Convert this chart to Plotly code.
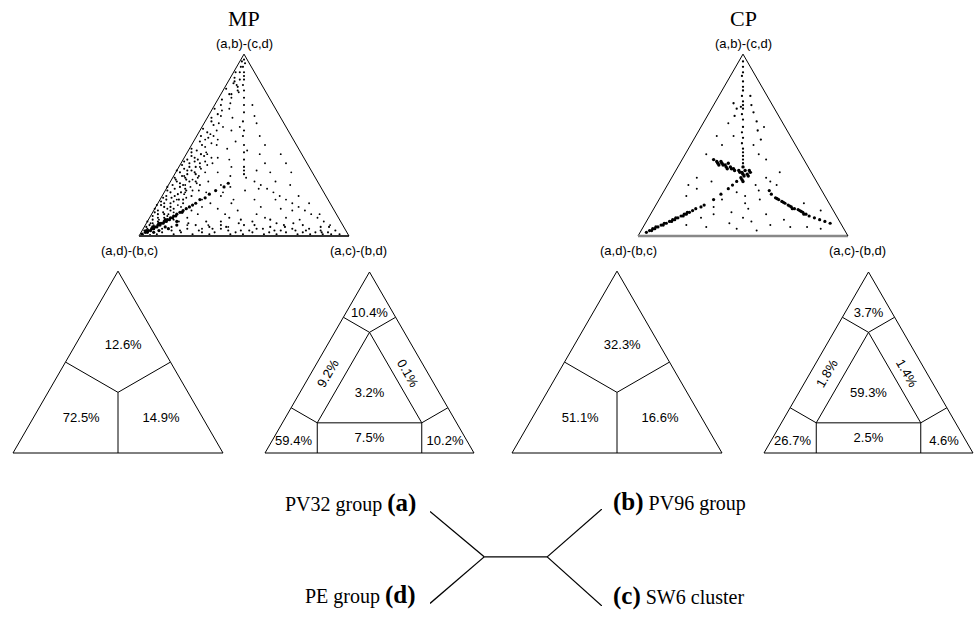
import math
import plotly.graph_objects as go

W, H = 975, 621

# ------------------------------------------------------------------ data
titles = ["MP", "CP"]
vertex_labels = ["(a,b)-(c,d)", "(a,d)-(b,c)", "(a,c)-(b,d)"]  # apex, bottom-left, bottom-right

# Likelihood-mapping points as (a, c): a = weight of (a,b)-(c,d) [apex],
# c = weight of (a,c)-(b,d) [bottom right]; b = 1 - a - c  [(a,d)-(b,c), bottom left]
mp_left_band = [
    (0.05, 0.01), (0.07, 0.03), (0.08, 0.00), (0.09, 0.02), (0.10, 0.04), (0.11, 0.01), (0.12, 0.03),
    (0.13, 0.05), (0.14, 0.02), (0.15, 0.00), (0.16, 0.04), (0.17, 0.02), (0.18, 0.06), (0.19, 0.01),
    (0.20, 0.03), (0.21, 0.05), (0.22, 0.02), (0.23, 0.07), (0.24, 0.03), (0.25, 0.01), (0.26, 0.04),
    (0.27, 0.06), (0.28, 0.02), (0.29, 0.05), (0.30, 0.03), (0.31, 0.07), (0.32, 0.01), (0.33, 0.04),
    (0.34, 0.06), (0.35, 0.02), (0.36, 0.05), (0.37, 0.03), (0.38, 0.08), (0.39, 0.01), (0.40, 0.04),
    (0.41, 0.06), (0.42, 0.02), (0.43, 0.05), (0.44, 0.03), (0.45, 0.07), (0.46, 0.02), (0.47, 0.04),
    (0.48, 0.01), (0.50, 0.05), (0.52, 0.03), (0.54, 0.06), (0.55, 0.02), (0.57, 0.04), (0.59, 0.01),
    (0.61, 0.05), (0.63, 0.03), (0.65, 0.02), (0.67, 0.04), (0.70, 0.01), (0.72, 0.03), (0.75, 0.02),
    (0.78, 0.04), (0.81, 0.01), (0.84, 0.03), (0.87, 0.02), (0.90, 0.01), (0.93, 0.02), (0.96, 0.01),
    (0.06, 0.02), (0.08, 0.05), (0.10, 0.07), (0.12, 0.06), (0.14, 0.08), (0.16, 0.07), (0.18, 0.03),
    (0.20, 0.09), (0.22, 0.06), (0.24, 0.08), (0.26, 0.09), (0.28, 0.07), (0.30, 0.09), (0.32, 0.06),
    (0.34, 0.10), (0.36, 0.07), (0.38, 0.05), (0.40, 0.09), (0.42, 0.07), (0.44, 0.09), (0.13, 0.01),
    (0.17, 0.00), (0.21, 0.01), (0.27, 0.00), (0.31, 0.02), (0.36, 0.00), (0.41, 0.01),
    (0.15, 0.09), (0.20, 0.11), (0.25, 0.10), (0.30, 0.12), (0.35, 0.09), (0.22, 0.14), (0.28, 0.15),
    (0.18, 0.12),
]
mp_streak = [
    (0.01, 0.01), (0.02, 0.02), (0.02, 0.03), (0.03, 0.03), (0.03, 0.04), (0.04, 0.04), (0.04, 0.05),
    (0.05, 0.05), (0.05, 0.06), (0.06, 0.06), (0.06, 0.07), (0.07, 0.07), (0.07, 0.08), (0.08, 0.08),
    (0.08, 0.09), (0.09, 0.09), (0.09, 0.10), (0.10, 0.10), (0.10, 0.11), (0.11, 0.11), (0.11, 0.12),
    (0.12, 0.12), (0.13, 0.13), (0.13, 0.14), (0.14, 0.14), (0.15, 0.15), (0.16, 0.16), (0.17, 0.17),
    (0.18, 0.18), (0.20, 0.19), (0.21, 0.21), (0.23, 0.22), (0.25, 0.24), (0.27, 0.27), (0.29, 0.28),
    (0.02, 0.06), (0.03, 0.08), (0.04, 0.12), (0.05, 0.10), (0.06, 0.15), (0.08, 0.14), (0.03, 0.02),
    (0.05, 0.04), (0.07, 0.06), (0.09, 0.08),
]
mp_base_band = [
    (0.005, 0.05), (0.01, 0.08), (0.02, 0.10), (0.00, 0.12), (0.03, 0.14), (0.01, 0.16), (0.02, 0.19),
    (0.04, 0.21), (0.00, 0.23), (0.01, 0.25), (0.03, 0.27), (0.02, 0.29), (0.05, 0.31), (0.01, 0.33),
    (0.02, 0.35), (0.04, 0.37), (0.00, 0.39), (0.03, 0.41), (0.01, 0.43), (0.02, 0.45), (0.06, 0.47),
    (0.01, 0.49), (0.03, 0.51), (0.02, 0.53), (0.00, 0.55), (0.04, 0.57), (0.01, 0.59), (0.02, 0.61),
    (0.03, 0.63), (0.01, 0.65), (0.05, 0.67), (0.02, 0.69), (0.00, 0.71), (0.03, 0.73), (0.01, 0.75),
    (0.02, 0.77), (0.04, 0.79), (0.01, 0.81), (0.02, 0.83), (0.03, 0.85), (0.01, 0.87), (0.02, 0.89),
    (0.01, 0.91), (0.00, 0.93), (0.01, 0.95), (0.07, 0.20), (0.08, 0.35), (0.06, 0.52), (0.09, 0.44),
    (0.07, 0.62), (0.06, 0.75), (0.05, 0.84), (0.08, 0.28), (0.10, 0.38), (0.09, 0.58),
    (0.04, 0.09), (0.05, 0.13), (0.03, 0.18), (0.06, 0.24), (0.04, 0.33), (0.05, 0.39), (0.03, 0.47),
    (0.04, 0.54), (0.05, 0.60), (0.03, 0.66), (0.04, 0.71), (0.03, 0.78), (0.02, 0.86), (0.03, 0.92),
    (0.06, 0.36), (0.07, 0.44), (0.08, 0.50), (0.06, 0.66), (0.07, 0.70), (0.05, 0.88),
]
mp_apex_line = [
    (0.97, 0.015), (0.95, 0.03), (0.93, 0.03), (0.90, 0.05), (0.88, 0.06), (0.86, 0.07), (0.83, 0.08),
    (0.80, 0.10), (0.76, 0.12), (0.72, 0.14), (0.68, 0.16), (0.63, 0.18), (0.58, 0.21), (0.55, 0.22),
    (0.50, 0.25), (0.46, 0.27), (0.42, 0.29), (0.38, 0.31), (0.36, 0.32), (0.34, 0.33),
    (0.90, 0.03), (0.86, 0.05), (0.82, 0.06), (0.85, 0.03), (0.80, 0.07), (0.78, 0.05),
]
mp_br_line = [
    (0.30, 0.40), (0.28, 0.44), (0.26, 0.48), (0.24, 0.52), (0.22, 0.56), (0.20, 0.60), (0.18, 0.64),
    (0.16, 0.68), (0.14, 0.72), (0.12, 0.76), (0.10, 0.80), (0.08, 0.84), (0.06, 0.88),
]
mp_scatter = [
    (0.40, 0.15), (0.45, 0.10), (0.50, 0.12), (0.55, 0.08), (0.60, 0.10), (0.35, 0.20), (0.30, 0.18),
    (0.25, 0.16), (0.42, 0.22), (0.48, 0.18), (0.52, 0.20), (0.38, 0.25), (0.33, 0.27), (0.27, 0.30),
    (0.22, 0.28), (0.18, 0.25), (0.15, 0.30), (0.12, 0.22), (0.10, 0.18), (0.08, 0.15), (0.14, 0.40),
    (0.18, 0.35), (0.12, 0.50), (0.20, 0.45), (0.25, 0.38), (0.30, 0.50), (0.35, 0.45), (0.40, 0.40),
    (0.45, 0.35), (0.28, 0.58), (0.22, 0.65), (0.15, 0.60), (0.10, 0.65), (0.18, 0.72), (0.12, 0.80),
    (0.05, 0.40), (0.06, 0.30), (0.65, 0.12), (0.70, 0.08), (0.72, 0.18), (0.62, 0.25), (0.55, 0.30),
    (0.50, 0.35), (0.58, 0.15), (0.66, 0.22), (0.45, 0.45), (0.40, 0.50), (0.35, 0.55), (0.38, 0.10),
    (0.32, 0.12), (0.28, 0.08), (0.24, 0.10), (0.20, 0.08), (0.16, 0.12), (0.12, 0.08), (0.09, 0.12),
    (0.06, 0.20), (0.04, 0.28), (0.14, 0.18), (0.24, 0.20), (0.33, 0.05), (0.43, 0.16), (0.53, 0.05),
    (0.47, 0.28), (0.60, 0.18),
    (0.03, 0.01), (0.04, 0.02), (0.06, 0.04), (0.07, 0.02), (0.09, 0.05), (0.11, 0.08), (0.13, 0.10),
    (0.15, 0.06), (0.17, 0.10), (0.19, 0.07), (0.21, 0.12), (0.23, 0.10), (0.25, 0.13), (0.27, 0.11),
    (0.29, 0.13), (0.31, 0.10), (0.33, 0.12), (0.35, 0.14), (0.37, 0.11), (0.39, 0.13), (0.41, 0.11),
    (0.43, 0.13), (0.46, 0.09), (0.49, 0.07), (0.51, 0.09), (0.53, 0.11), (0.56, 0.06), (0.58, 0.08),
    (0.62, 0.07), (0.66, 0.06), (0.69, 0.05), (0.73, 0.07), (0.76, 0.06), (0.79, 0.08), (0.83, 0.05),
    (0.20, 0.35), (0.24, 0.28), (0.28, 0.25), (0.32, 0.35), (0.36, 0.38), (0.26, 0.44), (0.16, 0.50),
    (0.10, 0.55), (0.14, 0.66), (0.20, 0.55), (0.09, 0.72), (0.12, 0.35), (0.16, 0.22), (0.20, 0.20),
]

cp_bl_streak = [
    (0.02, 0.03), (0.03, 0.04), (0.04, 0.05), (0.04, 0.06), (0.05, 0.07), (0.06, 0.08), (0.06, 0.09),
    (0.07, 0.10), (0.08, 0.11), (0.09, 0.12), (0.09, 0.13), (0.10, 0.14), (0.11, 0.15), (0.12, 0.16),
    (0.12, 0.17), (0.13, 0.18), (0.14, 0.19), (0.15, 0.20), (0.16, 0.22), (0.17, 0.23), (0.03, 0.05),
    (0.05, 0.06), (0.07, 0.09), (0.08, 0.12), (0.10, 0.13), (0.11, 0.16), (0.13, 0.17), (0.20, 0.26),
    (0.23, 0.28), (0.26, 0.30), (0.28, 0.31), (0.30, 0.32),
]
cp_br_streak = [
    (0.25, 0.50), (0.23, 0.52), (0.21, 0.55), (0.20, 0.57), (0.19, 0.59), (0.18, 0.61), (0.17, 0.63),
    (0.16, 0.65), (0.15, 0.67), (0.145, 0.69), (0.14, 0.70), (0.13, 0.72), (0.12, 0.74), (0.11, 0.76),
    (0.10, 0.79), (0.09, 0.82), (0.08, 0.85), (0.07, 0.88), (0.205, 0.56), (0.185, 0.60), (0.165, 0.64),
    (0.15, 0.66), (0.135, 0.71), (0.12, 0.73),
]
cp_center_blob = [
    (0.42, 0.15), (0.41, 0.17), (0.40, 0.18), (0.40, 0.20), (0.39, 0.21), (0.39, 0.22), (0.38, 0.23),
    (0.38, 0.25), (0.37, 0.26), (0.37, 0.27), (0.36, 0.28), (0.36, 0.30), (0.35, 0.31), (0.35, 0.32),
    (0.34, 0.33), (0.34, 0.35), (0.33, 0.34), (0.36, 0.33), (0.38, 0.31), (0.32, 0.33), (0.35, 0.36),
    (0.41, 0.19), (0.39, 0.19), (0.37, 0.24), (0.40, 0.23), (0.33, 0.36), (0.31, 0.34), (0.30, 0.35),
    (0.36, 0.35),
]
cp_apex_line = [
    (0.96, 0.02), (0.93, 0.035), (0.90, 0.05), (0.88, 0.055), (0.85, 0.075), (0.82, 0.09), (0.80, 0.10),
    (0.77, 0.11), (0.74, 0.13), (0.72, 0.14), (0.71, 0.135), (0.70, 0.15), (0.67, 0.16), (0.64, 0.18),
    (0.60, 0.20), (0.57, 0.21), (0.54, 0.23), (0.51, 0.24), (0.48, 0.26), (0.46, 0.27), (0.44, 0.28),
    (0.42, 0.29), (0.40, 0.30), (0.77, 0.15), (0.72, 0.18), (0.68, 0.21), (0.63, 0.25), (0.58, 0.28),
    (0.53, 0.32), (0.73, 0.09), (0.70, 0.12), (0.66, 0.13),
]
cp_scatter = [
    (0.10, 0.45), (0.08, 0.50), (0.12, 0.55), (0.06, 0.60), (0.09, 0.65), (0.05, 0.70), (0.07, 0.40),
    (0.13, 0.38), (0.15, 0.45), (0.18, 0.42), (0.22, 0.40), (0.20, 0.48), (0.25, 0.45), (0.28, 0.42),
    (0.24, 0.35), (0.20, 0.30), (0.16, 0.28), (0.12, 0.30), (0.10, 0.25), (0.06, 0.20), (0.05, 0.30),
    (0.04, 0.45), (0.03, 0.55), (0.05, 0.78), (0.04, 0.85), (0.30, 0.20), (0.26, 0.15), (0.22, 0.12),
    (0.28, 0.10), (0.32, 0.12), (0.45, 0.10), (0.50, 0.15), (0.55, 0.18), (0.50, 0.30), (0.45, 0.35),
    (0.42, 0.40), (0.30, 0.48), (0.28, 0.52), (0.32, 0.45), (0.55, 0.10), (0.62, 0.12), (0.60, 0.30),
    (0.14, 0.80), (0.18, 0.70), (0.35, 0.50),
]

# region percentages
mp3_values = ["12.6%", "72.5%", "14.9%"]
cp3_values = ["32.3%", "51.1%", "16.6%"]
mp7_values = ["10.4%", "9.2%", "0.1%", "3.2%", "59.4%", "7.5%", "10.2%"]
cp7_values = ["3.7%", "1.8%", "1.4%", "59.3%", "26.7%", "2.5%", "4.6%"]

# label anchor positions (a, c) and text rotation
pos3 = [(0.59, 0.23), (0.19, 0.23), (0.19, 0.61)]
pos7 = [(0.77, 0.115), (0.44, 0.08), (0.44, 0.465), (0.33, 0.335), (0.063, 0.105), (0.077, 0.461), (0.063, 0.83)]
rot7 = [0, -60, 60, 0, 0, 0, 0]

# region boundaries (a, b, c) -> (a, b, c)
c3 = (1 / 3, 1 / 3, 1 / 3)
seg3 = [(c3, (0.5, 0.5, 0.0)), (c3, (0.5, 0.0, 0.5)), (c3, (0.0, 0.5, 0.5))]
iA, iB, iC = (2 / 3, 1 / 6, 1 / 6), (1 / 6, 2 / 3, 1 / 6), (1 / 6, 1 / 6, 2 / 3)
seg7 = [
    (iA, iB), (iB, iC), (iC, iA),
    (iA, (0.75, 0.25, 0.0)), (iA, (0.75, 0.0, 0.25)),
    (iB, (0.25, 0.75, 0.0)), (iB, (0.0, 0.75, 0.25)),
    (iC, (0.25, 0.0, 0.75)), (iC, (0.0, 0.25, 0.75)),
]

# quartet tree
tree_nodes = {"L": (0.0, 0.0), "R": (1.0, 0.0), "a": (-0.86, 0.72), "d": (-0.86, -0.74),
              "b": (1.87, 0.76), "c": (1.87, -0.78)}
tree_edges = [("L", "R"), ("L", "a"), ("L", "d"), ("R", "b"), ("R", "c")]
tree_labels = {"a": ("PV32 group ", "(a)"), "d": ("PE group ", "(d)"),
               "b": ("(b)", " PV96 group"), "c": ("(c)", " SW6 cluster")}

# ------------------------------------------------------------------ layout helpers
SANS = "Liberation Sans, Arial, sans-serif"
SERIF = "Liberation Serif, Times New Roman, serif"

# triangle placement: (left px, right px, base px)
tri_top = {"MP": (139, 349, 236), "CP": (638, 848, 236)}
tri_mid = [(13, 223, 453), (265, 474, 453), (512, 722, 453), (764, 973, 453)]


def domain(tri):
    left, right, base = tri
    h = (right - left) * math.sqrt(3) / 2
    return dict(x=[left / W, right / W], y=[1 - base / H, 1 - (base - h) / H])


def bary_to_paper(tri, a, c):
    left, right, base = tri
    w = right - left
    h = w * math.sqrt(3) / 2
    return (left + w * (c + a / 2)) / W, 1 - (base - h * a) / H


def axis(color="black", width=1.0):
    return dict(showticklabels=False, ticks="", showgrid=False, showline=True,
                linecolor=color, linewidth=width, title=dict(text=""), min=0)


def ternary(tri, base_color="black", base_width=1.0):
    return dict(domain=domain(tri), sum=1, bgcolor="white",
                aaxis=axis(), baxis=axis(base_color, base_width), caxis=axis())


def note(x, y, text, font, **kw):
    d = dict(x=x, y=y, xref="paper", yref="paper", text=text, showarrow=False,
             xanchor="center", yanchor="middle", font=font)
    d.update(kw)
    return d


fig = go.Figure()
annotations = []


def add_points(sub, pts, size):
    fig.add_trace(go.Scatterternary(
        a=[p[0] for p in pts], c=[p[1] for p in pts], b=[1 - p[0] - p[1] for p in pts],
        mode="markers", subplot=sub, cliponaxis=False, hoverinfo="skip",
        marker=dict(size=size, color="black", line=dict(width=0))))


def add_segments(sub, segs):
    a, b, c = [], [], []
    for p, q in segs:
        a += [p[0], q[0], None]
        b += [p[1], q[1], None]
        c += [p[2], q[2], None]
    fig.add_trace(go.Scatterternary(a=a, b=b, c=c, mode="lines", subplot=sub,
                                    cliponaxis=False, hoverinfo="skip",
                                    line=dict(color="black", width=1)))


def add_labels(sub, tri, pos, values, rots=None):
    rots = rots or [0] * len(values)
    ta, tc, tt = [], [], []
    for (pa, pc), v, r in zip(pos, values, rots):
        if r == 0:
            ta.append(pa); tc.append(pc); tt.append(v)
        else:
            x, y = bary_to_paper(tri, pa, pc)
            annotations.append(note(x, y, v, dict(family=SANS, size=13, color="black"), textangle=r))
    fig.add_trace(go.Scatterternary(a=ta, c=tc, b=[1 - x - y for x, y in zip(ta, tc)], mode="text",
                                    text=tt, subplot=sub, cliponaxis=False, hoverinfo="skip",
                                    textfont=dict(family=SANS, size=13, color="black")))


# ---- top likelihood maps
add_points("ternary", mp_left_band, 2.1)
add_points("ternary", mp_base_band, 2.1)
add_points("ternary", mp_scatter, 1.9)
add_points("ternary", mp_apex_line, 2.1)
add_points("ternary", mp_br_line, 1.9)
add_points("ternary", mp_streak, 3.2)

add_points("ternary2", cp_scatter, 2.0)
add_points("ternary2", cp_apex_line, 2.3)
add_points("ternary2", cp_bl_streak, 3.2)
add_points("ternary2", cp_br_streak, 3.2)
add_points("ternary2", cp_center_blob, 3.4)

# ---- region diagrams
add_segments("ternary3", seg3)
add_labels("ternary3", tri_mid[0], pos3, mp3_values)
add_segments("ternary4", seg7)
add_labels("ternary4", tri_mid[1], pos7, mp7_values, rot7)
add_segments("ternary5", seg3)
add_labels("ternary5", tri_mid[2], pos3, cp3_values)
add_segments("ternary6", seg7)
add_labels("ternary6", tri_mid[3], pos7, cp7_values, rot7)

# ---- titles and vertex labels
small = dict(family=SANS, size=13, color="black")
for name in titles:
    left, right, base = tri_top[name]
    apex_x = (left + right) / 2 / W
    apex_y = base - (right - left) * math.sqrt(3) / 2
    annotations.append(note(apex_x, 1 - 18 / H, name, dict(family=SERIF, size=22, color="black")))
    annotations.append(note(apex_x, 1 - (apex_y - 11) / H, vertex_labels[0], small))
    annotations.append(note((left - 10) / W, 1 - (base + 14) / H, vertex_labels[1], small))
    annotations.append(note((right + 9) / W, 1 - (base + 14) / H, vertex_labels[2], small))

# ---- tree
tx, ty = [], []
for u, v in tree_edges:
    tx += [tree_nodes[u][0], tree_nodes[v][0], None]
    ty += [tree_nodes[u][1], tree_nodes[v][1], None]
fig.add_trace(go.Scatter(x=tx, y=ty, mode="lines", line=dict(color="black", width=1.3),
                         hoverinfo="skip", xaxis="x", yaxis="y"))

label_style = {
    "a": dict(xanchor="right", xshift=-12, yshift=9),
    "d": dict(xanchor="right", xshift=-12, yshift=8),
    "b": dict(xanchor="left", xshift=9, yshift=7),
    "c": dict(xanchor="left", xshift=9, yshift=10),
}
for leaf, (t1, t2) in tree_labels.items():
    if leaf in ("a", "d"):
        txt = t1 + "<b><span style='font-size:25px'>" + t2 + "</span></b>"
    else:
        txt = "<b><span style='font-size:25px'>" + t1 + "</span></b>" + t2
    annotations.append(dict(x=tree_nodes[leaf][0], y=tree_nodes[leaf][1], xref="x", yref="y",
                            text=txt, showarrow=False, yanchor="middle",
                            font=dict(family=SERIF, size=20, color="black"), **label_style[leaf]))

fig.update_layout(
    width=W, height=H, margin=dict(l=0, r=0, t=0, b=0),
    paper_bgcolor="white", plot_bgcolor="white", showlegend=False,
    ternary=ternary(tri_top["MP"], "#333333", 2.0),
    ternary2=ternary(tri_top["CP"], "#888888", 2.5),
    ternary3=ternary(tri_mid[0]), ternary4=ternary(tri_mid[1]),
    ternary5=ternary(tri_mid[2]), ternary6=ternary(tri_mid[3]),
    xaxis=dict(domain=[430 / W, 602 / W], range=[-0.86, 1.87], visible=False, fixedrange=True),
    yaxis=dict(domain=[1 - 606 / H, 1 - 509 / H], range=[-0.78, 0.76], visible=False, fixedrange=True),
    annotations=annotations,
)

fig.write_html("out.html", config={"displayModeBar": False},
               post_script="document.body.style.margin='0px';")
